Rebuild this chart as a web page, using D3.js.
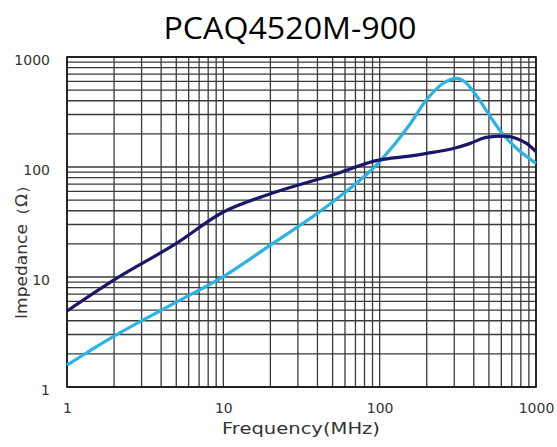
<!DOCTYPE html>
<html>
<head>
<meta charset="utf-8">
<script src="https://cdn.jsdelivr.net/npm/d3@7"></script>
<style>
  body { margin: 0; background: #fff; }
  svg { display: block; }
</style>
</head>
<body>
<div id="chart"></div>
<script>
// chart values
var title = "PCAQ4520M-900";
var xTicks = [1, 10, 100, 1000];
var yTicks = [1, 10, 100, 1000];

// light blue curve (frequency MHz, impedance ohm)
var lightFreq = [1, 2, 5, 10, 20, 50, 100, 155, 195, 255, 310, 350, 420, 510, 620, 750, 1000];
var lightZ    = [1.58, 2.9, 5.9, 10.1, 19.5, 48, 112, 241, 392, 577, 640, 596, 436, 287, 195, 148, 108];

// dark navy curve
var darkFreq = [1, 2, 5, 10, 20, 50, 100, 150, 200, 300, 380, 480, 620, 750, 870, 1000];
var darkZ    = [4.9, 9.4, 20.2, 39, 57, 84.5, 116, 125, 133, 148, 164, 186, 191, 182, 164, 138];

var width = 557,
    height = 447;
var margin = { left: 67, right: 21, top: 57, bottom: 60 };

var svg = d3.select("#chart")
    .append("svg")
    .attr("width", width)
    .attr("height", height);

var xScale = d3.scaleLog()
    .domain([1, 1000])
    .range([margin.left, width - margin.right]);

var yScale = d3.scaleLog()
    .domain([1, 1000])
    .range([height - margin.bottom, margin.top]);

// minor + major grid lines, 1..9 in each decade
var gridVals = [];
[1, 10, 100].forEach(function(dec) {
    for (var i = 1; i <= 10; i++) gridVals.push(dec * i);
});
gridVals = Array.from(new Set(gridVals));

var grid = svg.append("g").attr("class", "grid");

grid.selectAll("line.vx")
    .data(gridVals)
    .enter()
    .append("line")
    .attr("class", "vx")
    .attr("x1", function(d) { return xScale(d); })
    .attr("x2", function(d) { return xScale(d); })
    .attr("y1", yScale(1))
    .attr("y2", yScale(1000))
    .attr("stroke", "#3a3a3a")
    .attr("stroke-width", 1.3);

grid.selectAll("line.hy")
    .data(gridVals)
    .enter()
    .append("line")
    .attr("class", "hy")
    .attr("y1", function(d) { return yScale(d); })
    .attr("y2", function(d) { return yScale(d); })
    .attr("x1", xScale(1))
    .attr("x2", xScale(1000))
    .attr("stroke", "#3a3a3a")
    .attr("stroke-width", 1.3);

// border
svg.append("rect")
    .attr("x", xScale(1))
    .attr("y", yScale(1000))
    .attr("width", xScale(1000) - xScale(1))
    .attr("height", yScale(1) - yScale(1000))
    .attr("fill", "none")
    .attr("stroke", "#111")
    .attr("stroke-width", 1.6);

// curves
var line = d3.line()
    .x(function(d) { return xScale(d[0]); })
    .y(function(d) { return yScale(d[1]); })
    .curve(d3.curveMonotoneX);

svg.append("path")
    .datum(d3.zip(lightFreq, lightZ))
    .attr("d", line)
    .attr("fill", "none")
    .attr("stroke", "#2bb3e6")
    .attr("stroke-width", 3.2);

svg.append("path")
    .datum(d3.zip(darkFreq, darkZ))
    .attr("d", line)
    .attr("fill", "none")
    .attr("stroke", "#1b1768")
    .attr("stroke-width", 3.2);

// tick labels
var fmt = d3.format("d");

var xAxis = d3.axisBottom(xScale)
    .tickValues(xTicks)
    .tickFormat(fmt)
    .tickSize(0)
    .tickPadding(16);

svg.append("g")
    .attr("class", "axis x-axis")
    .attr("transform", "translate(0," + yScale(1) + ")")
    .call(xAxis)
    .call(function(g) { g.select(".domain").remove(); })
    .selectAll("text")
    .attr("font-family", "DejaVu Sans, Verdana, sans-serif")
    .attr("font-size", 14)
    .attr("fill", "#333");

var yAxis = d3.axisLeft(yScale)
    .tickValues(yTicks)
    .tickFormat(fmt)
    .tickSize(0)
    .tickPadding(17);

svg.append("g")
    .attr("class", "axis y-axis")
    .attr("transform", "translate(" + xScale(1) + ",3)")
    .call(yAxis)
    .call(function(g) { g.select(".domain").remove(); })
    .selectAll("text")
    .attr("font-family", "DejaVu Sans, Verdana, sans-serif")
    .attr("font-size", 14)
    .attr("fill", "#333");

// title
svg.append("text")
    .attr("x", 290)
    .attr("y", 39)
    .attr("text-anchor", "middle")
    .attr("font-family", "Open Sans, Noto Sans, sans-serif")
    .attr("font-size", 31)
    .attr("textLength", 253)
    .attr("lengthAdjust", "spacingAndGlyphs")
    .attr("fill", "#000")
    .text(title);

// axis titles
svg.append("text")
    .attr("x", 301)
    .attr("y", 434)
    .attr("text-anchor", "middle")
    .attr("font-family", "DejaVu Sans, Verdana, sans-serif")
    .attr("font-size", 15)
    .attr("textLength", 158)
    .attr("lengthAdjust", "spacingAndGlyphs")
    .attr("fill", "#333")
    .text("Frequency(MHz)");

svg.append("text")
    .attr("transform", "translate(27,248) rotate(-90)")
    .attr("text-anchor", "middle")
    .attr("font-family", "DejaVu Sans, Verdana, sans-serif")
    .attr("font-size", 15)
    .attr("textLength", 142)
    .attr("lengthAdjust", "spacingAndGlyphs")
    .attr("fill", "#333")
    .text("Impedance（Ω）");
</script>
</body>
</html>
